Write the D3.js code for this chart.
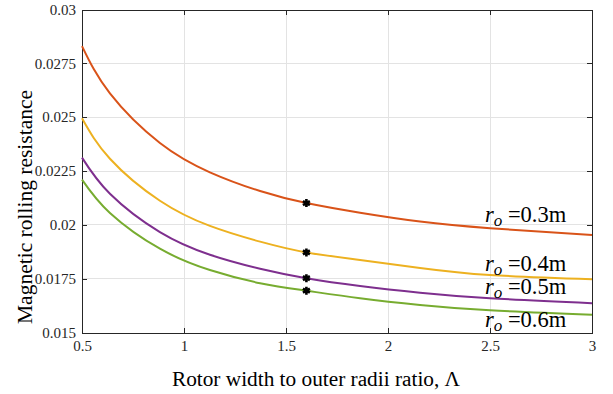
<!DOCTYPE html>
<html>
<head>
<meta charset="utf-8">
<script src="https://cdn.jsdelivr.net/npm/d3@7"></script>
<style>
  html, body { margin: 0; padding: 0; background: #fff; }
  svg { display: block; }
  svg text { font-family: "Liberation Serif", "Times New Roman", Times, "DejaVu Serif", serif; }
</style>
</head>
<body>
<svg id="chart" width="613" height="394"></svg>
<script>
// Rotor width to outer radius ratio (Λ) at which each curve is sampled
const lambda = [0.5, 0.637, 0.882, 1.127, 1.373, 1.6, 1.863, 2.157, 2.5, 3.0];

// Magnetic rolling resistance for each outer radius
const r03 = [0.02830, 0.02610, 0.02380, 0.02244, 0.02157, 0.02101, 0.02056, 0.02015, 0.01984, 0.01953];
const r04 = [0.02495, 0.02307, 0.02112, 0.01995, 0.01922, 0.01872, 0.01837, 0.01800, 0.01767, 0.01747];
const r05 = [0.02312, 0.02144, 0.01966, 0.01861, 0.01796, 0.01752, 0.01716, 0.01685, 0.01659, 0.01636];
const r06 = [0.02210, 0.02055, 0.01889, 0.01790, 0.01729, 0.01694, 0.01659, 0.01628, 0.01603, 0.01583];

// Highlighted design point on every curve
const markLambda = 1.6;
const markValues = [0.02101, 0.01872, 0.01752, 0.01694];

const seriesNames = ["0.3m", "0.4m", "0.5m", "0.6m"];
const seriesColors = ["#D95319", "#EDB120", "#7E2F8E", "#77AC30"];

const xTicks = [0.5, 1, 1.5, 2, 2.5, 3];
const xTickLabels = ["0.5", "1", "1.5", "2", "2.5", "3"];
const yTicks = [0.015, 0.0175, 0.02, 0.0225, 0.025, 0.0275, 0.03];
const yTickLabels = ["0.015", "0.0175", "0.02", "0.0225", "0.025", "0.0275", "0.03"];

const series = [r03, r04, r05, r06];

const svg = d3.select("#chart");
const m = { left: 82, right: 592, top: 9.5, bottom: 332.5 };

const x = d3.scaleLinear().domain([0.5, 3]).range([m.left, m.right]);
const y = d3.scaleLinear().domain([0.015, 0.03]).range([m.bottom, m.top]);

// grid
const grid = svg.append("g").attr("stroke", "#e3e3e3").attr("stroke-width", 1).attr("shape-rendering", "crispEdges");
xTicks.slice(1, -1).forEach(t => {
  grid.append("line").attr("x1", x(t)).attr("x2", x(t)).attr("y1", m.top).attr("y2", m.bottom);
});
yTicks.slice(1, -1).forEach(t => {
  grid.append("line").attr("x1", m.left).attr("x2", m.right).attr("y1", y(t)).attr("y2", y(t));
});

// axes with inward ticks on all four sides
const tickLen = 5;
const axisColor = "#262626";
const fmtX = (d, i) => xTickLabels[i];
const fmtY = (d, i) => yTickLabels[i];

const gx = svg.append("g").attr("transform", `translate(0,${m.bottom})`)
  .call(d3.axisBottom(x).tickValues(xTicks).tickFormat(fmtX).tickSizeInner(-tickLen).tickSizeOuter(0).tickPadding(8));
const gxTop = svg.append("g").attr("transform", `translate(0,${m.top})`)
  .call(d3.axisTop(x).tickValues(xTicks).tickFormat("").tickSizeInner(-tickLen).tickSizeOuter(0));
const gy = svg.append("g").attr("transform", `translate(${m.left},0)`)
  .call(d3.axisLeft(y).tickValues(yTicks).tickFormat(fmtY).tickSizeInner(-tickLen).tickSizeOuter(0).tickPadding(6));
const gyRight = svg.append("g").attr("transform", `translate(${m.right},0)`)
  .call(d3.axisRight(y).tickValues(yTicks).tickFormat("").tickSizeInner(-tickLen).tickSizeOuter(0));

[gx, gxTop, gy, gyRight].forEach(g => {
  g.attr("font-family", null).attr("font-size", null);
  g.select(".domain").attr("stroke", axisColor).attr("shape-rendering", "crispEdges");
  g.selectAll(".tick line").attr("stroke", axisColor).attr("shape-rendering", "crispEdges");
  g.selectAll("text").attr("fill", "#262626").style("font-size", "15px");
});

// curves
const line = d3.line()
  .x((d, i) => x(lambda[i]))
  .y(d => y(d))
  .curve(d3.curveNatural);

series.forEach((s, k) => {
  svg.append("path")
    .datum(s)
    .attr("fill", "none")
    .attr("stroke", seriesColors[k])
    .attr("stroke-width", 2)
    .attr("d", line);
});

// design-point markers
const sym = d3.symbol().type(d3.symbolAsterisk).size(45);
markValues.forEach(v => {
  svg.append("path")
    .attr("d", sym())
    .attr("transform", `translate(${x(markLambda)},${y(v)})`)
    .attr("fill", "none")
    .attr("stroke", "#000")
    .attr("stroke-width", 2.6);
});

// curve labels
const labelPos = [
  { x: 485, y: 221.7 },
  { x: 485, y: 270.7 },
  { x: 485, y: 293.8 },
  { x: 485, y: 327.0 }
];
seriesNames.forEach((name, k) => {
  const t = svg.append("text")
    .attr("x", labelPos[k].x)
    .attr("y", labelPos[k].y)
    .attr("fill", "#000")
    .style("font-size", "22.5px");
  t.append("tspan").style("font-style", "italic").text("r");
  t.append("tspan").style("font-style", "italic").style("font-size", "17px").attr("dy", 4).text("o");
  t.append("tspan").attr("dy", -4).text("\u00a0=" + name);
});

// axis titles
svg.append("text")
  .attr("x", 316)
  .attr("y", 386)
  .attr("text-anchor", "middle")
  .attr("fill", "#000")
  .style("font-size", "21.3px")
  .text("Rotor width to outer radii ratio, \u039B");

svg.append("text")
  .attr("transform", "translate(32,207) rotate(-90)")
  .attr("text-anchor", "middle")
  .attr("fill", "#000")
  .style("font-size", "21.5px")
  .text("Magnetic rolling resistance");
</script>
</body>
</html>
